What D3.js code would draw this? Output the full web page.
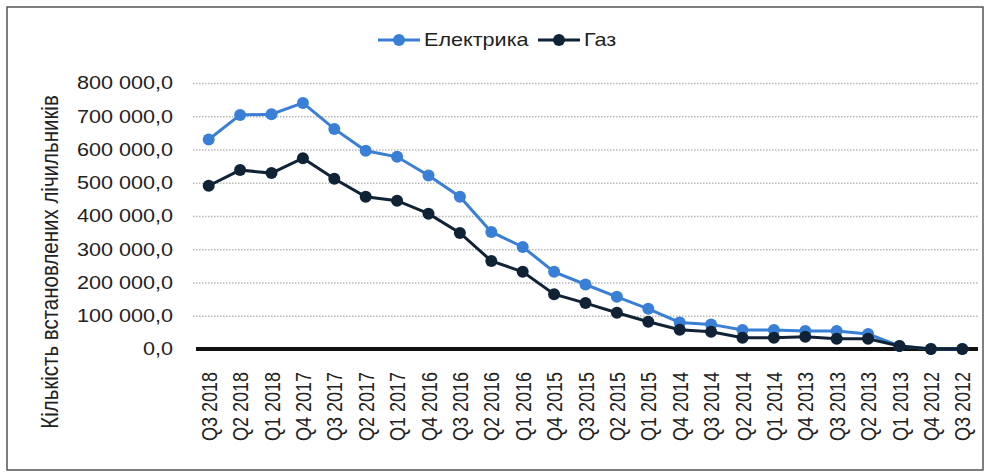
<!DOCTYPE html>
<html>
<head>
<meta charset="utf-8">
<script src="https://cdn.jsdelivr.net/npm/d3@7"></script>
<style>
  body { margin: 0; background: #fff; }
  text { font-family: 'Liberation Sans', Arial, sans-serif; fill: #222; }
</style>
</head>
<body>
<div id="chart"></div>
<script>
const quarters = ['Q3 2018', 'Q2 2018', 'Q1 2018', 'Q4 2017', 'Q3 2017', 'Q2 2017', 'Q1 2017',
  'Q4 2016', 'Q3 2016', 'Q2 2016', 'Q1 2016', 'Q4 2015', 'Q3 2015', 'Q2 2015', 'Q1 2015',
  'Q4 2014', 'Q3 2014', 'Q2 2014', 'Q1 2014', 'Q4 2013', 'Q3 2013', 'Q2 2013', 'Q1 2013',
  'Q4 2012', 'Q3 2012']

const electric = [630000, 704000, 706000, 740000, 662000, 596000, 578000,
  522000, 458000, 352000, 307000, 232000, 194000, 157000, 121000,
  80000, 74000, 57000, 57000, 54000, 54000, 45000, 9000,
  0, 0]

const gas = [491000, 538000, 529000, 574000, 512000, 458000, 446000,
  407000, 349000, 265000, 232000, 165000, 138000, 109000, 82000,
  58000, 52000, 34000, 34000, 37000, 31000, 31000, 9000,
  0, 0]

const yTicks = [0, 100000, 200000, 300000, 400000, 500000, 600000, 700000, 800000]

const seriesNames = ['Електрика', 'Газ']
const colors = ['#3a7fd6', '#0f2236']

const width = 989
const height = 475
const plot = { left: 193, right: 978, top: 83, bottom: 349 }
const sx = 1.2 // the picture is stretched wide

const svg = d3.select('#chart')
  .append('svg')
  .attr('width', width)
  .attr('height', height)

// frame
svg.append('rect')
  .attr('x', 7).attr('y', 7)
  .attr('width', 976).attr('height', 463)
  .attr('fill', 'none')
  .attr('stroke', '#555')
  .attr('stroke-width', 1.5)

const x = d3.scalePoint().domain(quarters).range([plot.left, plot.right]).padding(0.5)
const y = d3.scaleLinear().domain([0, 800000]).range([plot.bottom, plot.top])

const locale = d3.formatLocale({ decimal: ',', thousands: '\u00a0', grouping: [3] })
const fmt = locale.format(',.1f')

// dotted gridlines
svg.append('g')
  .attr('transform', 'translate(' + plot.left + ',0)')
  .call(d3.axisLeft(y).tickValues(yTicks.slice(1)).tickSize(-(plot.right - plot.left)).tickFormat(''))
  .call(g => g.select('.domain').remove())
  .call(g => g.selectAll('line')
    .attr('stroke', '#b8b8b8')
    .attr('stroke-width', 1.5)
    .attr('stroke-dasharray', '1.5,1.5'))

// y axis labels
svg.append('g')
  .attr('transform', 'translate(' + plot.left + ',0)')
  .call(d3.axisLeft(y).tickValues(yTicks).tickSize(0).tickFormat(fmt))
  .call(g => g.select('.domain').remove())
  .call(g => g.selectAll('text')
    .attr('x', null)
    .attr('font-size', 18)
    .attr('transform', 'translate(-20,0) scale(' + sx + ',1)'))

// zero line
svg.append('line')
  .attr('x1', plot.left + 3).attr('x2', plot.right)
  .attr('y1', y(0)).attr('y2', y(0))
  .attr('stroke', '#111')
  .attr('stroke-width', 4)

// x axis labels
svg.append('g')
  .attr('transform', 'translate(0,' + y(0) + ')')
  .call(d3.axisBottom(x).tickSize(0))
  .call(g => g.select('.domain').remove())
  .call(g => g.selectAll('text')
    .attr('x', null).attr('y', null).attr('dy', '0.35em')
    .attr('text-anchor', 'end')
    .attr('font-size', 18)
    .attr('transform', 'translate(0,23) scale(' + sx + ',1) rotate(-90)'))

// y title
svg.append('text')
  .attr('transform', 'translate(49,262) scale(' + sx + ',1) rotate(-90)')
  .attr('text-anchor', 'middle')
  .attr('dy', '0.35em')
  .attr('font-size', 20.5)
  .text('Кількість встановлених лічильників')

const line = d3.line()
  .x((d, i) => x(quarters[i]))
  .y(d => y(d))

const allSeries = [electric, gas]

allSeries.forEach((values, k) => {
  const g = svg.append('g')
  g.append('path')
    .datum(values)
    .attr('d', line)
    .attr('fill', 'none')
    .attr('stroke', colors[k])
    .attr('stroke-width', 3)
  g.selectAll('circle')
    .data(values)
    .enter()
    .append('circle')
    .attr('cx', (d, i) => x(quarters[i]))
    .attr('cy', d => y(d))
    .attr('r', 6)
    .attr('fill', colors[k])
})

// legend
const legendX = [378, 538]
const legendW = 42
seriesNames.forEach((name, k) => {
  const g = svg.append('g').attr('transform', 'translate(' + legendX[k] + ',40)')
  g.append('line')
    .attr('x1', 0).attr('x2', legendW)
    .attr('stroke', colors[k])
    .attr('stroke-width', 3)
  g.append('circle')
    .attr('cx', legendW / 2)
    .attr('r', 6)
    .attr('fill', colors[k])
  g.append('text')
    .attr('transform', 'translate(' + (legendW + 4) + ',0) scale(' + sx + ',1)')
    .attr('dy', '0.35em')
    .attr('font-size', 18)
    .text(name)
})
</script>
</body>
</html>
